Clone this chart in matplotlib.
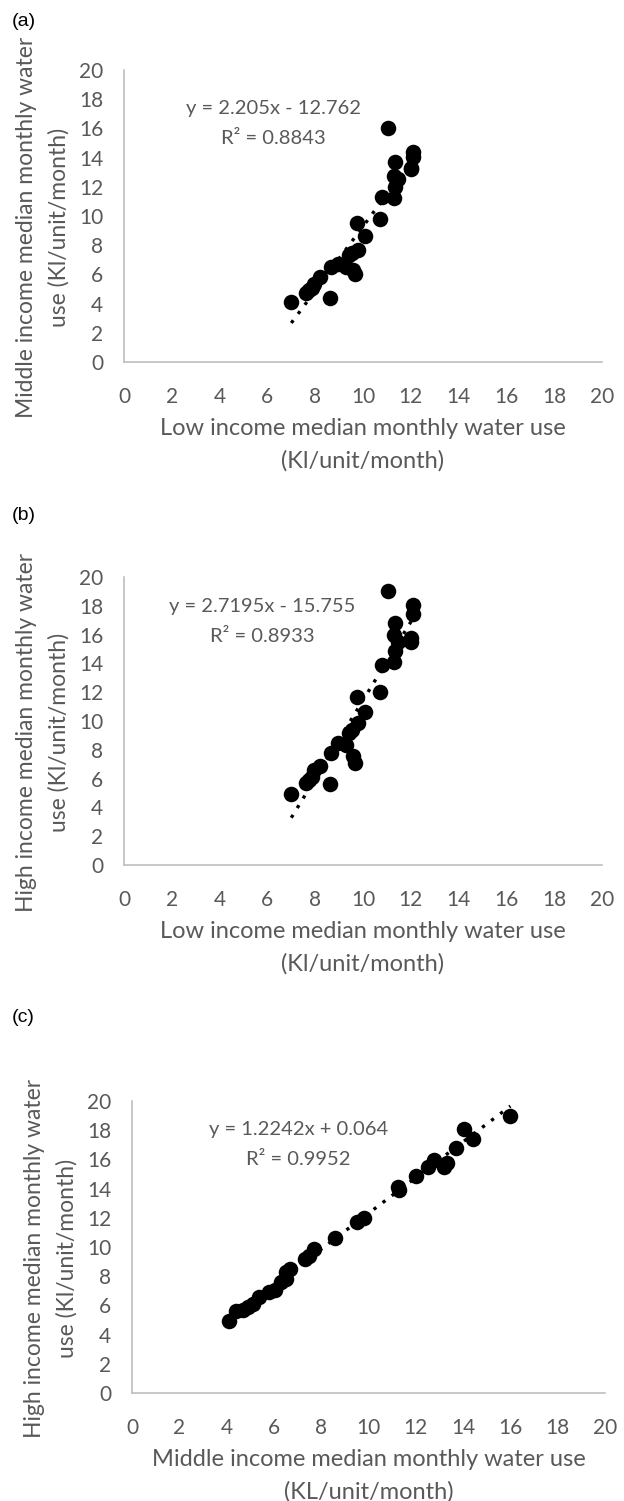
import numpy as np
import matplotlib
matplotlib.use("Agg")
import matplotlib.pyplot as plt

plt.rcParams['font.family'] = ['Lato', 'DejaVu Sans']

# median monthly water use per suburb (Kl/unit/month)
low = [7.0, 8.6, 7.6, 7.75, 7.85, 7.95, 8.2, 8.65, 8.95, 9.3, 9.6, 9.65, 9.4, 9.55,
       9.8, 10.1, 9.75, 10.7, 10.8, 11.3, 11.35, 11.45, 11.3, 11.35, 12.0, 12.0,
       12.1, 12.1, 11.05]
mid = [4.1, 4.4, 4.7, 4.9, 5.1, 5.35, 5.8, 6.5, 6.7, 6.5, 6.3, 6.05, 7.3, 7.5,
       7.7, 8.6, 9.5, 9.8, 11.3, 11.25, 12.0, 12.5, 12.75, 13.7, 13.2, 13.3,
       14.4, 14.05, 16.0]
high = [4.95, 5.6, 5.7, 5.9, 6.1, 6.6, 6.9, 7.8, 8.5, 8.3, 7.6, 7.05, 9.2, 9.4,
        9.85, 10.6, 11.7, 12.0, 13.9, 14.1, 14.85, 15.5, 15.95, 16.8, 15.5, 15.75,
        17.4, 18.05, 19.0]

# linear trendlines as given on the chart
slopes = [2.205, 2.7195, 1.2242]
intercepts = [-12.762, -15.755, 0.064]
eq_texts = ["y = 2.205x - 12.762", "y = 2.7195x - 15.755", "y = 1.2242x + 0.064"]
r2_texts = ["R² = 0.8843", "R² = 0.8933", "R² = 0.9952"]

panels = ["(a)", "(b)", "(c)"]
xlabels = ["Low income median monthly water use\n(Kl/unit/month)",
           "Low income median monthly water use\n(Kl/unit/month)",
           "Middle income median monthly water use\n(KL/unit/month)"]
ylabels = ["Middle income median monthly water\nuse (Kl/unit/month)",
           "High income median monthly water\nuse (Kl/unit/month)",
           "High income median monthly water\nuse (Kl/unit/month)"]
pairs = [(low, mid), (low, high), (mid, high)]

W, H = 624, 1501
fig = plt.figure(figsize=(W/100, H/100), dpi=100)
boxes = [(124, 70, 602, 362), (124, 577, 602, 865), (132, 1101, 605, 1393)]
eq_pos = [(6.25, 16.35), (5.8, 16.9), (7.05, 17.0)]
lab_y = [21, 516, 1017]

grey = '#595959'
for i in range(3):
    l, t, r, b = boxes[i]
    ax = fig.add_axes([l/W, 1-b/H, (r-l)/W, (b-t)/H])
    xs, ys = pairs[i]
    ax.scatter(xs, ys, s=125, color='black', zorder=3, linewidths=0)
    xx = np.array([min(xs), max(xs)])
    ax.plot(xx, slopes[i]*xx + intercepts[i], color='black', lw=2.4,
            linestyle=(0, (1, 2.4)), zorder=2)
    ax.set_xlim(0, 20)
    ax.set_ylim(0, 20)
    ax.set_xticks(range(0, 21, 2))
    ax.set_yticks(range(0, 21, 2))
    ax.tick_params(length=0, labelsize=15, labelcolor=grey)
    ax.tick_params(axis='x', pad=18)
    ax.tick_params(axis='y', pad=15)
    for sp in ['top', 'right']:
        ax.spines[sp].set_visible(False)
    for sp in ['left', 'bottom']:
        ax.spines[sp].set_color('#bfbfbf')
        ax.spines[sp].set_linewidth(1.2)
    ax.set_xlabel(xlabels[i], fontsize=17, color=grey, labelpad=8, linespacing=1.6)
    ax.set_ylabel(ylabels[i], fontsize=16.5, color=grey, labelpad=7, linespacing=1.6,
                  y=0.46)
    ex, ey = eq_pos[i]
    ax.text(ex, ey, eq_texts[i] + "\n" + r2_texts[i], fontsize=14.5, color=grey,
            ha='center', va='center', linespacing=1.9)
    fig.text(12/W, 1-lab_y[i]/H, panels[i], fontsize=14, color='black',
             family=['Liberation Sans', 'DejaVu Sans'], va='center')

fig.savefig("out.png", dpi=100)
